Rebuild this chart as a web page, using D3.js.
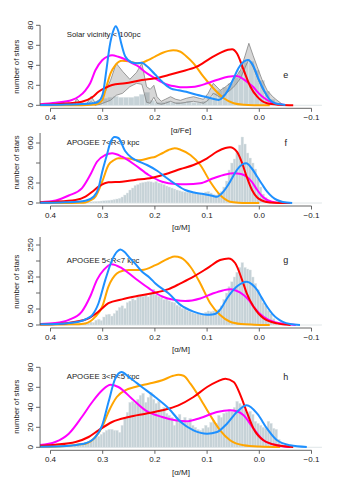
<!DOCTYPE html>
<html lang="en">
<head>
<meta charset="utf-8" />
<title>alpha distributions</title>
<script src="https://d3js.org/d3.v7.min.js"></script>
<style>
  body { margin: 0; background: #fff; }
  svg text { font-family: "Liberation Sans", Arial, sans-serif; fill: #222; }
</style>
</head>
<body>
<script>
// shared x axis
const xTicks = [0.4, 0.3, 0.2, 0.1, 0.0, -0.1];
const xTickLabels = ["0.4", "0.3", "0.2", "0.1", "0.0", "\u22120.1"];

// ---- panel e : solar vicinity ----
const eTitle = "Solar vicinity < 100pc";
const eYTicks = [0, 20, 40, 60, 80];
const eYLabels = ["0", "20", "40", "60", "80"];
const eHistStart = 0.31, eHistWidth = 0.01;
const eHist = [3,7,8,9,8,8,8,9,11,13, 5,3,3,4,3,3,3,4,3,3, 4,8,12,15,18,22,28,35,43,44, 35,25,14,6,2];
const eBandUpper = [[0.355,0],[0.35,7],[0.342,2],[0.33,2],[0.322,9],[0.315,3],[0.305,6],[0.295,13.6],[0.285,25],[0.274,42],[0.262,34],[0.248,26],[0.235,33],[0.225,42],[0.216,18.6],[0.209,16],[0.202,20],[0.196,8.6],[0.188,4],[0.18,6],[0.17,8.6],[0.16,6],[0.151,5],[0.14,7],[0.126,8.6],[0.115,7],[0.107,6],[0.098,12],[0.088,22],[0.075,15],[0.066,18],[0.056,22],[0.046,28],[0.036,35],[0.027,50],[0.02,62],[0.012,50],[0.004,38.6],[-0.005,26],[-0.015,15],[-0.025,9],[-0.034,5],[-0.047,0]];
const eBandLower = [[0.355,0],[0.35,3],[0.342,0],[0.33,0],[0.322,4],[0.315,0],[0.305,1],[0.295,3],[0.285,5],[0.274,10],[0.262,12],[0.248,18.6],[0.235,22],[0.225,21],[0.216,3],[0.209,2],[0.202,8],[0.196,2],[0.188,1],[0.18,2],[0.17,4],[0.16,2],[0.151,2],[0.14,3],[0.126,4],[0.115,3],[0.107,2],[0.098,5],[0.088,12],[0.075,8],[0.066,11],[0.056,15],[0.046,20],[0.036,27],[0.027,38],[0.02,46],[0.012,38],[0.004,28],[-0.005,17],[-0.015,8],[-0.025,3],[-0.034,1],[-0.047,0]];
const eBlue = [[0.42,0.3],[0.38,0.6],[0.34,1.2],[0.32,2],[0.31,3],[0.30,11],[0.293,35],[0.287,58],[0.28,74],[0.275,79],[0.27,74],[0.265,63],[0.257,49],[0.245,43],[0.235,42],[0.225,42.5],[0.215,39],[0.2,31],[0.186,23.5],[0.17,17],[0.155,15],[0.14,13.5],[0.12,10.5],[0.1,8],[0.085,6],[0.078,5.3],[0.07,8],[0.06,15],[0.05,26],[0.04,37],[0.03,43.5],[0.022,45.3],[0.012,40],[0.002,27],[-0.01,14],[-0.021,5],[-0.03,2],[-0.04,1],[-0.05,0.3]];
const eMagenta = [[0.42,1],[0.39,2.5],[0.359,5.3],[0.345,9],[0.333,15],[0.324,22],[0.314,35],[0.301,45],[0.29,49],[0.282,50],[0.27,48.5],[0.257,46],[0.245,42.5],[0.231,38.6],[0.218,33],[0.205,28.6],[0.19,24],[0.174,20.3],[0.16,18.8],[0.148,18],[0.13,18.2],[0.115,19.5],[0.1,22],[0.08,25.5],[0.06,28.5],[0.043,29.3],[0.03,26],[0.02,22],[0.011,18],[0.004,13.6],[-0.005,9],[-0.015,5.3],[-0.025,2.5],[-0.034,1.2],[-0.05,0.3]];
const eOrange = [[0.42,0],[0.34,0.1],[0.32,0.5],[0.31,1.5],[0.301,5],[0.293,18.6],[0.285,32],[0.276,40],[0.263,44.6],[0.25,44],[0.244,43],[0.232,42],[0.225,42.6],[0.212,45.5],[0.199,49],[0.185,52.5],[0.165,55],[0.151,53.6],[0.14,49],[0.126,42],[0.107,28.6],[0.088,17],[0.068,7],[0.049,2],[0.03,0.5],[0.01,0.1],[-0.02,0]];
const eRed = [[0.42,0.5],[0.39,1],[0.365,2],[0.34,3.6],[0.32,8],[0.308,13.6],[0.295,17.5],[0.282,20.3],[0.257,22],[0.225,25.3],[0.199,27],[0.174,30.3],[0.151,33.6],[0.12,38.6],[0.094,47],[0.075,52.5],[0.06,55.5],[0.052,56],[0.043,52],[0.03,35.3],[0.017,18.6],[0.004,8.6],[-0.015,2],[-0.04,0.5],[-0.065,0]];

// ---- panel f : APOGEE 7<R<9 ----
const fTitle = "APOGEE 7<R<9 kpc";
const fYTicks = [0, 200, 400, 600];
const fYLabels = ["0", "200", "", "600"];
const fHistStart = 0.35, fHistWidth = 0.005;
const fHist = [3,5,6,8,10,12,14,16,18,20, 22,24,27,30,35,40,47,60,80,100, 130,150,175,185,200,205,210,215,212,205, 215,200,195,185,170,160,150,140,130,122, 115,110,108,105,102,100,98,97,100,110, 115,100,85,80,95,115,160,220,330,400, 440,510,580,660,590,500,450,400,340,250, 160,90,55,30,18,10,6,4,2,1];
const fBlue = [[0.42,2],[0.38,6],[0.35,12],[0.333,22],[0.317,65],[0.308,150],[0.301,310],[0.292,480],[0.285,610],[0.277,660],[0.27,650],[0.257,520],[0.245,455],[0.235,425],[0.215,380],[0.195,320],[0.18,260],[0.161,190],[0.142,130],[0.125,105],[0.107,90],[0.09,72],[0.081,63],[0.072,95],[0.062,163],[0.052,250],[0.043,330],[0.033,385],[0.025,397],[0.015,350],[0.004,263],[-0.005,190],[-0.015,113],[-0.025,60],[-0.034,30],[-0.045,10],[-0.063,0]];
const fMagenta = [[0.42,8],[0.39,25],[0.365,75],[0.34,147],[0.324,280],[0.311,413],[0.295,480],[0.282,497],[0.263,463],[0.238,380],[0.212,280],[0.186,213],[0.161,190],[0.14,187],[0.113,197],[0.088,247],[0.065,285],[0.049,297],[0.035,290],[0.024,263],[0.014,210],[0.004,130],[-0.005,70],[-0.015,30],[-0.034,3],[-0.05,0]];
const fOrange = [[0.42,0],[0.36,0.5],[0.345,2],[0.333,5],[0.324,25],[0.314,63],[0.301,213],[0.289,380],[0.278,430],[0.27,447],[0.25,445],[0.235,428],[0.225,430],[0.21,450],[0.199,463],[0.185,500],[0.174,530],[0.162,547],[0.151,533],[0.132,480],[0.113,380],[0.094,213],[0.075,80],[0.056,13],[0.04,3],[0.024,0.5],[0,0]];
const fRed = [[0.42,8],[0.391,13],[0.352,30],[0.333,63],[0.32,113],[0.308,163],[0.289,207],[0.263,213],[0.238,230],[0.205,253],[0.174,297],[0.151,340],[0.126,380],[0.1,447],[0.081,513],[0.065,550],[0.056,557],[0.043,513],[0.033,400],[0.024,260],[0.014,130],[0.004,55],[-0.005,25],[-0.02,6],[-0.04,1],[-0.06,0]];

// ---- panel g : APOGEE 5<R<7 ----
const gTitle = "APOGEE 5<R<7 kpc";
const gYTicks = [0, 50, 100, 150, 200, 250];
const gYLabels = ["0", "50", "", "150", "", "250"];
const gHistStart = 0.35, gHistWidth = 0.005;
const gHist = [3,4,5,8,6,9,8,15,18,14, 25,32,34,28,36,45,55,60,52,70, 75,82,78,88,92,90,94,88,100,112, 95,90,86,80,82,76,72,70,62,58, 52,50,45,42,38,36,35,34,35,40, 44,42,44,40,48,60,80,100,120,135, 150,165,180,195,180,175,172,150,130,110, 90,70,60,45,35,20,10,5,2,1];
const gBlue = [[0.42,2],[0.38,4],[0.346,10],[0.33,20],[0.32,31],[0.308,68],[0.295,141],[0.282,203],[0.272,230],[0.266,236],[0.258,228],[0.25,213],[0.237,190],[0.225,167],[0.21,148],[0.199,130],[0.174,99],[0.151,63],[0.126,42],[0.11,34],[0.1,32],[0.09,33],[0.081,38],[0.072,55],[0.062,83],[0.052,105],[0.043,120],[0.033,131],[0.024,135],[0.014,127],[0.004,109],[-0.005,84],[-0.015,57],[-0.025,35],[-0.034,21],[-0.045,10],[-0.059,3],[-0.078,0]];
const gMagenta = [[0.42,3],[0.391,6],[0.365,16],[0.34,42],[0.324,89],[0.311,141],[0.298,172],[0.283,190],[0.263,177],[0.238,146],[0.212,115],[0.186,89],[0.161,78],[0.142,75],[0.113,83],[0.088,99],[0.07,108],[0.056,112],[0.045,108],[0.03,94],[0.02,78],[0.011,57],[-0.008,26],[-0.027,10],[-0.053,2],[-0.07,0]];
const gOrange = [[0.42,1],[0.36,2],[0.333,5],[0.314,26],[0.301,57],[0.289,120],[0.273,161],[0.26,170],[0.25,172],[0.225,172],[0.199,187],[0.174,208],[0.162,214],[0.15,210],[0.132,182],[0.113,130],[0.094,68],[0.075,31],[0.056,10],[0.035,3],[0.01,1],[-0.02,0]];
const gRed = [[0.42,2],[0.391,3],[0.352,10],[0.327,21],[0.308,42],[0.289,68],[0.263,80],[0.238,89],[0.205,99],[0.174,112],[0.151,130],[0.126,151],[0.1,177],[0.075,203],[0.059,208],[0.046,193],[0.033,141],[0.024,99],[0.011,57],[-0.008,21],[-0.034,5],[-0.06,0]];

// ---- panel h : APOGEE 3<R<5 ----
const hTitle = "APOGEE 3<R<5 kpc";
const hYTicks = [0, 20, 40, 60, 80];
const hYLabels = ["0", "20", "40", "60", "80"];
const hHistStart = 0.355, hHistWidth = 0.005;
const hHist = [3,3,4,4,5,6,7,8,10,11, 13,15,17,18,18,17,17,15,22,30, 35,45,46,44,48,52,54,45,50,55, 48,44,46,38,40,34,32,30,22,30, 33,27,30,25,29,22,20,18,17,19, 22,20,25,27,24,32,30,34,35,38, 36,40,46,44,42,38,35,36,33,26, 24,22,20,19,26,24,19,18,8,3];
const hBlue = [[0.42,0.5],[0.37,1.2],[0.343,3],[0.333,4],[0.314,10.3],[0.301,22],[0.289,45],[0.276,68.6],[0.264,75.3],[0.25,70.3],[0.225,60.3],[0.199,50],[0.174,39],[0.15,25],[0.126,17],[0.1,13.6],[0.081,15.3],[0.062,23.6],[0.043,35.3],[0.024,42],[0.004,33.6],[-0.015,18.6],[-0.034,7],[-0.059,2],[-0.091,0.3]];
const hMagenta = [[0.42,2.3],[0.391,5.3],[0.365,13.6],[0.34,30.3],[0.32,45.3],[0.301,57],[0.285,62.6],[0.27,60.3],[0.244,48.6],[0.218,37],[0.186,30.3],[0.161,27],[0.14,26],[0.113,29.3],[0.081,35.3],[0.056,37],[0.043,36],[0.03,32],[0.011,18.6],[-0.008,7],[-0.034,2],[-0.059,0.3]];
const hOrange = [[0.42,0.5],[0.37,1.3],[0.343,3],[0.333,3.6],[0.314,10.3],[0.301,20.3],[0.289,35.3],[0.273,50.3],[0.257,57],[0.238,60.3],[0.212,63.6],[0.186,67],[0.165,71.5],[0.155,72.5],[0.145,71.5],[0.132,63.6],[0.113,48.6],[0.094,32],[0.075,17],[0.056,7],[0.03,2],[0.0,0.7],[-0.04,0.2]];
const hRed = [[0.42,1.6],[0.391,2.6],[0.352,5.3],[0.327,10.3],[0.308,17],[0.282,25.3],[0.25,30.3],[0.218,33.6],[0.186,37],[0.155,42],[0.126,50.3],[0.1,60.3],[0.08,66],[0.065,68.6],[0.049,65.3],[0.036,52],[0.024,35.3],[0.011,18.6],[-0.008,7],[-0.034,2],[-0.065,0.3]];

const width = 354, height = 479;
const svg = d3.select("body").append("svg")
    .attr("width", width).attr("height", height);

// x scale (same in every panel), plot region runs 0.42 .. -0.12
const x = d3.scaleLinear().domain([0.4, -0.1]).range([50.5, 311.5]);
const plotLeft = x(0.42), plotRight = x(-0.12);

const colors = { blue: "#1e90ff", magenta: "#ff00ff", orange: "#ffa500", red: "#ff0000" };

function drawPanel(p) {
    const y = d3.scaleLinear().domain([0, p.yMax]).range([p.base, p.top]);
    const g = svg.append("g");

    // zero-height bins line
    g.append("line")
        .attr("x1", plotLeft).attr("x2", plotRight)
        .attr("y1", p.base).attr("y2", p.base)
        .attr("stroke", "#d8dfe2").attr("stroke-width", 0.8);

    // histogram
    g.selectAll("rect.bar")
        .data(p.hist)
        .enter().append("rect")
        .attr("class", "bar")
        .attr("x", (d, i) => x(p.histStart - i * p.histWidth))
        .attr("width", x(0) - x(p.histWidth))
        .attr("y", d => y(d))
        .attr("height", d => p.base - y(d))
        .attr("fill", "#c6d2d7")
        .attr("stroke", "#e3e9eb")
        .attr("stroke-width", 0.4);

    // grey envelope (panel e only)
    if (p.bandUpper) {
        const poly = p.bandUpper.concat(p.bandLower.slice().reverse());
        g.append("path")
            .attr("d", d3.line().x(d => x(d[0])).y(d => y(d[1]))(poly) + "Z")
            .attr("fill", "rgba(150,150,150,0.38)")
            .attr("stroke", "none");
        [p.bandUpper, p.bandLower].forEach(l => {
            g.append("path")
                .attr("d", d3.line().x(d => x(d[0])).y(d => y(d[1]))(l))
                .attr("fill", "none").attr("stroke", "#777").attr("stroke-width", 0.7);
        });
    }

    // title + letter
    g.append("text").attr("x", 66.7).attr("y", p.titleY).attr("dy", "0.35em")
        .attr("font-size", 7.8).text(p.title);
    g.append("text").attr("x", 285.7).attr("y", p.letterY).attr("dy", "0.35em")
        .attr("font-size", 9).attr("text-anchor", "middle").text(p.letter);

    // model curves
    const line = d3.line().x(d => x(d[0])).y(d => y(d[1])).curve(d3.curveMonotoneX);
    [[p.orange, colors.orange], [p.magenta, colors.magenta], [p.red, colors.red], [p.blue, colors.blue]]
        .forEach(([data, c]) => {
            g.append("path").attr("d", line(data))
                .attr("fill", "none").attr("stroke", c).attr("stroke-width", 2)
                .attr("stroke-linejoin", "round");
        });

    // y axis
    g.append("line").attr("x1", plotLeft).attr("x2", plotLeft)
        .attr("y1", p.base).attr("y2", p.axisTop)
        .attr("stroke", "#555").attr("stroke-width", 0.9);
    p.yTicks.forEach((t, i) => {
        g.append("line").attr("x1", plotLeft - 4).attr("x2", plotLeft)
            .attr("y1", y(t)).attr("y2", y(t))
            .attr("stroke", "#555").attr("stroke-width", 0.9);
        if (p.yLabels[i]) {
            g.append("text").attr("transform", `translate(30,${y(t)}) rotate(-90)`)
                .attr("dy", "0.35em").attr("text-anchor", "middle")
                .attr("font-size", 8).text(p.yLabels[i]);
        }
    });
    g.append("text").attr("transform", `translate(16.7,${p.ylabY}) rotate(-90)`)
        .attr("dy", "0.35em").attr("text-anchor", "middle")
        .attr("font-size", 7.8).text("number of stars");

    // x axis
    const ax = p.base + 3;
    g.append("line").attr("x1", x(0.4)).attr("x2", x(-0.1))
        .attr("y1", ax).attr("y2", ax)
        .attr("stroke", "#555").attr("stroke-width", 0.9);
    xTicks.forEach((t, i) => {
        g.append("line").attr("x1", x(t)).attr("x2", x(t))
            .attr("y1", ax).attr("y2", ax + 3.5)
            .attr("stroke", "#555").attr("stroke-width", 0.9);
        g.append("text").attr("x", x(t)).attr("y", p.base + 11.8).attr("dy", "0.35em")
            .attr("text-anchor", "middle").attr("font-size", 8).text(xTickLabels[i]);
    });
    g.append("text").attr("x", (plotLeft + plotRight) / 2).attr("y", p.base + 24.5)
        .attr("dy", "0.35em").attr("text-anchor", "middle")
        .attr("font-size", 8).text(p.xlab);
}

drawPanel({ base: 105.3, top: 25.3, axisTop: 25.3, yMax: 80, yTicks: eYTicks, yLabels: eYLabels,
    hist: eHist, histStart: eHistStart, histWidth: eHistWidth, bandUpper: eBandUpper, bandLower: eBandLower,
    blue: eBlue, magenta: eMagenta, orange: eOrange, red: eRed,
    title: eTitle, titleY: 34.7, letter: "e", letterY: 75, ylabY: 66.7, xlab: "[\u03b1/Fe]" });
drawPanel({ base: 203, top: 143, axisTop: 133, yMax: 600, yTicks: fYTicks, yLabels: fYLabels,
    hist: fHist, histStart: fHistStart, histWidth: fHistWidth,
    blue: fBlue, magenta: fMagenta, orange: fOrange, red: fRed,
    title: fTitle, titleY: 142.7, letter: "f", letterY: 142.7, ylabY: 162.5, xlab: "[\u03b1/M]" });
drawPanel({ base: 325, top: 245, axisTop: 237, yMax: 250, yTicks: gYTicks, yLabels: gYLabels,
    hist: gHist, histStart: gHistStart, histWidth: gHistWidth,
    blue: gBlue, magenta: gMagenta, orange: gOrange, red: gRed,
    title: gTitle, titleY: 260, letter: "g", letterY: 260, ylabY: 281.7, xlab: "[\u03b1/M]" });
drawPanel({ base: 447.3, top: 367.3, axisTop: 367.3, yMax: 80, yTicks: hYTicks, yLabels: hYLabels,
    hist: hHist, histStart: hHistStart, histWidth: hHistWidth,
    blue: hBlue, magenta: hMagenta, orange: hOrange, red: hRed,
    title: hTitle, titleY: 376, letter: "h", letterY: 376.7, ylabY: 406.7, xlab: "[\u03b1/M]" });
</script>
</body>
</html>
